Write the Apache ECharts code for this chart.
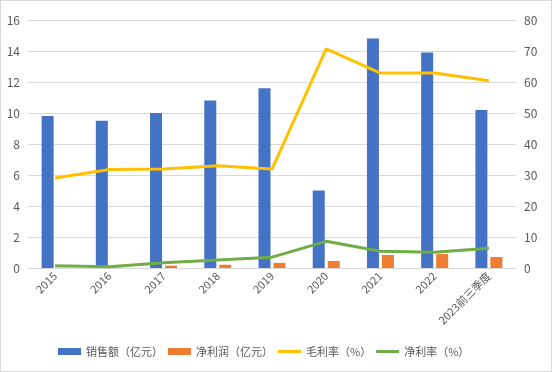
<!DOCTYPE html>
<html><head><meta charset="utf-8">
<script src="https://cdn.jsdelivr.net/npm/echarts@6/dist/echarts.min.js"></script>
<style>html,body{margin:0;padding:0;background:#fff}#c{width:552px;height:372px;box-sizing:border-box;border:1px solid #d9d9d9}</style>
</head><body><div id="c"></div>
<script>
var categories = ['2015','2016','2017','2018','2019','2020','2021','2022','2023前三季度'];
var sales = [9.8, 9.5, 10.0, 10.8, 11.6, 5.0, 14.8, 13.9, 10.2];
var netProfit = [0.01, 0.01, 0.15, 0.21, 0.33, 0.45, 0.84, 0.9, 0.71];
var grossMargin = [29.0, 31.8, 31.9, 33.0, 31.9, 70.7, 62.9, 62.9, 60.4];
var netMargin = [0.7, 0.4, 1.7, 2.6, 3.5, 8.6, 5.4, 5.1, 6.4];
var leftTicks = {min: 0, max: 16, interval: 2};
var rightTicks = {min: 0, max: 80, interval: 10};
var names = ['销售额（亿元）','净利润（亿元）','毛利率（%）','净利率（%）'];

var font = '"Noto Sans CJK SC", "Noto Sans", sans-serif';
var lineIcon = 'path://M0,0H23V3H0Z';
var chart = echarts.init(document.getElementById('c'));
chart.setOption({
  animation: false,
  textStyle: {fontFamily: font},
  grid: {left: 27, right: 35, top: 19, bottom: 103, containLabel: false},
  legend: {
    top: 345, left: 57, padding: 0, itemWidth: 23, itemHeight: 7, itemGap: 5,
    textStyle: {color: '#595959', fontSize: 11, fontFamily: font},
    data: [
      {name: names[0], icon: 'rect'},
      {name: names[1], icon: 'rect'},
      {name: names[2], icon: lineIcon},
      {name: names[3], icon: lineIcon}
    ]
  },
  xAxis: {
    type: 'category', data: categories,
    axisLine: {lineStyle: {color: '#d9d9d9'}},
    axisTick: {show: false},
    axisLabel: {rotate: 45, color: '#595959', fontSize: 11, interval: 0, margin: 6, fontFamily: font}
  },
  yAxis: [
    {type: 'value', min: leftTicks.min, max: leftTicks.max, interval: leftTicks.interval,
     axisLine: {show: false}, axisTick: {show: false},
     axisLabel: {color: '#595959', fontSize: 12, margin: 8, fontFamily: font},
     splitLine: {lineStyle: {color: '#d9d9d9'}}},
    {type: 'value', min: rightTicks.min, max: rightTicks.max, interval: rightTicks.interval,
     axisLine: {show: false}, axisTick: {show: false},
     axisLabel: {color: '#595959', fontSize: 12, margin: 8, fontFamily: font},
     splitLine: {show: false}}
  ],
  series: [
    {name: names[0], type: 'bar', data: sales, barWidth: 12, barGap: '25%', itemStyle: {color: '#4472C4'}},
    {name: names[1], type: 'bar', data: netProfit, barWidth: 12, barGap: '25%', itemStyle: {color: '#ED7D31'}},
    {name: names[2], type: 'line', yAxisIndex: 1, data: grossMargin, symbol: 'none', lineStyle: {color: '#FFC000', width: 3}, itemStyle: {color: '#FFC000'}},
    {name: names[3], type: 'line', yAxisIndex: 1, data: netMargin, symbol: 'none', lineStyle: {color: '#70AD47', width: 3}, itemStyle: {color: '#70AD47'}}
  ]
});
</script></body></html>
